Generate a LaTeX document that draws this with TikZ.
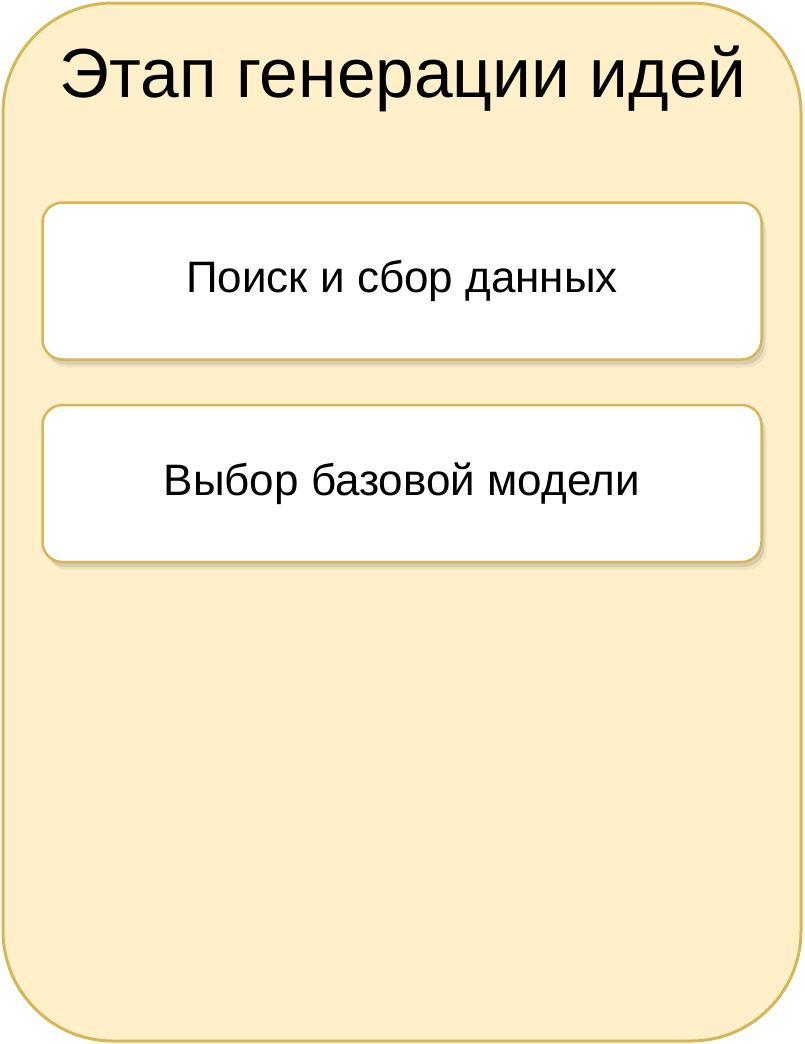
\documentclass[tikz,border=0pt]{standalone}
\usepackage{fontspec}
\setmainfont{Liberation Sans}
\usetikzlibrary{shadows,positioning}
\definecolor{stageFill}{HTML}{FFF0C9}
\definecolor{stageLine}{HTML}{D6B656}

\begin{document}
\begin{tikzpicture}[x=1pt,y=-1pt,
    stage/.style={draw=stageLine,fill=stageFill,line width=3pt,rounded corners=110pt,inner sep=0pt},
    task/.style={draw=stageLine,fill=white,line width=2.5pt,rounded corners=20pt,
      minimum width=719pt,minimum height=157pt,inner sep=0pt,
      font=\fontsize{44}{50}\selectfont,
      drop shadow={shadow xshift=5pt,shadow yshift=-8pt,opacity=.08,fill=black!70},
      drop shadow={shadow xshift=3pt,shadow yshift=-5pt,opacity=.14,fill=black!70}}]

  \useasboundingbox (0,0) rectangle (804,1044);

  % the stage frame and its title
  \node[stage,minimum width=798pt,minimum height=1038pt] (frame) at (402,522) {};
  \node[anchor=base,font=\fontsize{69.5}{80}\selectfont] (title) at (403,97) {Этап генерации идей};

  % the two tasks
  \node[task] (search) at (402,281) {Поиск и сбор данных};
  \node[task,below=43pt of search] (model) {Выбор базовой модели};

\end{tikzpicture}
\end{document}
